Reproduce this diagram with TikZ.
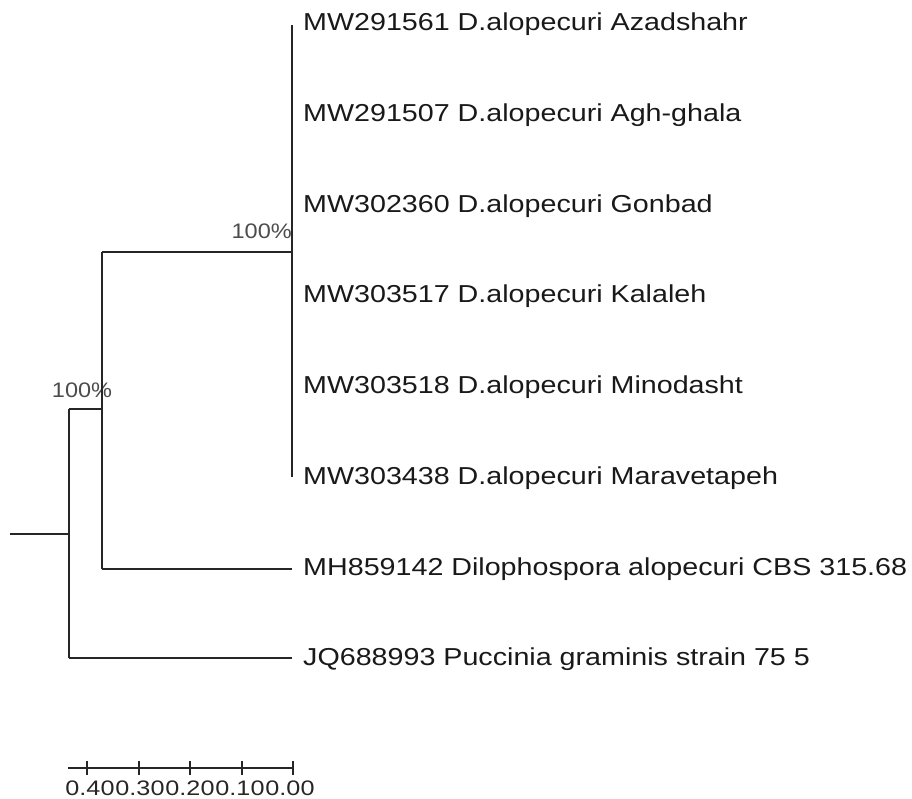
\documentclass[tikz,border=0pt]{standalone}
\usepackage{fontspec}
\setmainfont{Liberation Sans}
\begin{document}
\begin{tikzpicture}[x=1pt,y=-1pt,
  branch/.style={line width=1.4pt,black!85},
  leaf/.style={anchor=base west,inner sep=0pt,xscale=1.17,font=\fontsize{24.5}{28}\selectfont,text=black!90},
  boot/.style={inner sep=0pt,xscale=1.12,font=\fontsize{21}{25}\selectfont,text=black!70},
  scalelbl/.style={anchor=base,inner sep=0pt,xscale=1.2,font=\fontsize{21}{25}\selectfont,text=black!85}]
\useasboundingbox (0,0) rectangle (912,798);
% internal nodes
\coordinate (n1) at (292,252);
\coordinate (n2) at (102,409);
\coordinate (rt) at (69,534);
\coordinate (rtend) at (10,534);
\coordinate (n1top) at (292,25);
\coordinate (n1bot) at (292,477);
\coordinate (n2top) at (102,252);
\coordinate (n2bot) at (102,569);
\coordinate (rttop) at (69,409);
\coordinate (rtbot) at (69,658);
\coordinate (e7) at (292,569);
\coordinate (e8) at (292,658);
% leaves
\node[leaf] (a) at (303,30) {MW291561 D.alopecuri Azadshahr};
\node[leaf] (b) at (303,121) {MW291507 D.alopecuri Agh-ghala};
\node[leaf] (c) at (303,212) {MW302360 D.alopecuri Gonbad};
\node[leaf] (d) at (303,302) {MW303517 D.alopecuri Kalaleh};
\node[leaf] (e) at (303,393) {MW303518 D.alopecuri Minodasht};
\node[leaf] (f) at (303,484) {MW303438 D.alopecuri Maravetapeh};
\node[leaf] (g) at (303,575) {MH859142 Dilophospora alopecuri CBS 315.68};
\node[leaf] (h) at (303,665) {JQ688993 Puccinia graminis strain 75 5};
% bootstrap
\node[boot,anchor=base east] (b1) at (292,238) {100\%};
\node[boot,anchor=base] (b2) at (82,397) {100\%};
% branches
\draw[branch] (n1top) -- (n1bot);
\draw[branch] (n2top) -- (n1);
\draw[branch] (n2top) -- (n2bot);
\draw[branch] (n2bot) -- (e7);
\draw[branch] (rttop) -- (n2);
\draw[branch] (rttop) -- (rtbot);
\draw[branch] (rtbot) -- (e8);
\draw[branch] (rtend) -- (rt);
% scale bar
\coordinate (s0) at (68,768);
\coordinate (s4) at (87,768);
\coordinate (s3) at (139,768);
\coordinate (s2) at (190,768);
\coordinate (s1) at (242,768);
\coordinate (s5) at (293,768);
\draw[branch] (s0) -- (s5);
\foreach \p in {s4,s3,s2,s1,s5} \draw[branch] ([yshift=-7pt]\p) -- ([yshift=7pt]\p);
\node[scalelbl] (t4) at (90,795) {0.40};
\node[scalelbl] (t3) at (140,795) {0.30};
\node[scalelbl] (t2) at (190,795) {0.20};
\node[scalelbl] (t1) at (240,795) {0.10};
\node[scalelbl] (t0) at (290,795) {0.00};
\end{tikzpicture}
\end{document}
